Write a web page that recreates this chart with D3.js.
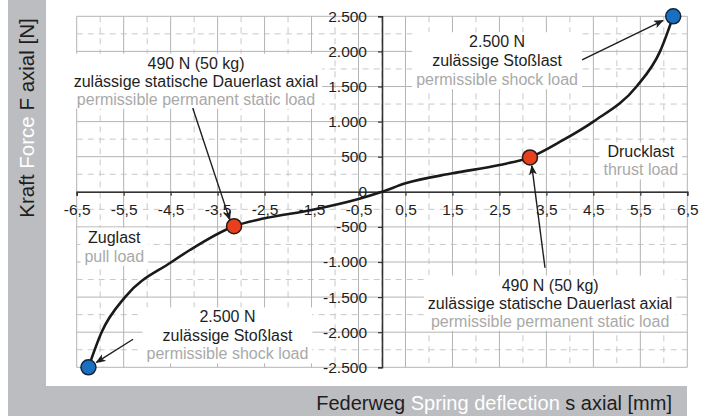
<!DOCTYPE html>
<html>
<head>
<meta charset="utf-8">
<script src="https://cdn.jsdelivr.net/npm/d3@7"></script>
<style>
  body { margin: 0; background: #fff; }
  svg text { font-family: "Liberation Sans", Arial, sans-serif; }
</style>
</head>
<body>
<div id="chart"></div>
<script>
// Spring curve (deflection in mm, force in N)
var deflection = [-6.25, -5.97, -5.47, -4.48, -4.09, -3.15, -2.5, -1.5, -0.5, 0, 0.5, 1.5, 2.5, 3.15, 3.86, 4.5, 5.42, 5.92, 6.2];
var force = [-2500, -2000, -1500, -1000, -829, -490, -378, -259, -103, 0, 121, 263, 382, 490, 738, 1000, 1500, 2000, 2500];

// marked load points
var staticX = [-3.15, 3.15];
var staticF = [-490, 490];
var shockX = [-6.25, 6.2];
var shockF = [-2500, 2500];

// ticks and grid
var xTicks = [-6.5, -5.5, -4.5, -3.5, -2.5, -1.5, -0.5, 0.5, 1.5, 2.5, 3.5, 4.5, 5.5, 6.5];
var xMinor = [-6, -5, -4, -3, -2, -1, 0, 1, 2, 3, 4, 5, 6];
var yTicks = [-2500, -2000, -1500, -1000, -500, 0, 500, 1000, 1500, 2000, 2500];
var yMinor = [-2250, -1750, -1250, -750, -250, 250, 750, 1250, 1750, 2250];

// annotation texts
var staticNote = ["490 N (50 kg)", "zulässige statische Dauerlast axial", "permissible permanent static load"];
var shockNote = ["2.500 N", "zulässige Stoßlast", "permissible shock load"];
var thrustNote = ["Drucklast", "thrust load"];
var pullNote = ["Zuglast", "pull load"];

var width = 712;
var height = 416;

var dark = "#1e1e1e";
var light = "#a9a9a9";
var frame = "#bcbdc0";

var de = d3.formatLocale({ decimal: ",", thousands: ".", grouping: [3], currency: ["", ""], minus: "-" });
var fmtX = de.format(".1f");
var fmtY = de.format(",");

var svg = d3
  .select("#chart")
  .append("svg")
  .attr("width", width)
  .attr("height", height);

// grey frame on the left and bottom
svg.append("rect").attr("x", 8).attr("y", 0).attr("width", 38).attr("height", height).attr("fill", frame);
svg.append("rect").attr("x", 8).attr("y", 386).attr("width", 679).attr("height", 30).attr("fill", frame);

var xScale = d3.scaleLinear().domain([-6.5, 6.5]).range([76.7, 687.3]);
var yScale = d3.scaleLinear().domain([-2500, 2500]).range([367.3, 16.3]);

// grid: dashed minor first, solid major on top
var grid = svg.append("g").attr("class", "grid");

grid.selectAll(".vMinor").data(xMinor).enter()
  .append("line")
  .attr("x1", function(d) { return xScale(d); })
  .attr("x2", function(d) { return xScale(d); })
  .attr("y1", yScale(2500))
  .attr("y2", yScale(-2500))
  .attr("stroke", "#c8c8c8")
  .attr("stroke-dasharray", "6,5");

grid.selectAll(".hMinor").data(yMinor).enter()
  .append("line")
  .attr("x1", xScale(-6.5))
  .attr("x2", xScale(6.5))
  .attr("y1", function(d) { return yScale(d); })
  .attr("y2", function(d) { return yScale(d); })
  .attr("stroke", "#c8c8c8")
  .attr("stroke-dasharray", "6,5");

grid.selectAll(".vMajor").data(xTicks).enter()
  .append("line")
  .attr("x1", function(d) { return xScale(d); })
  .attr("x2", function(d) { return xScale(d); })
  .attr("y1", yScale(2500))
  .attr("y2", yScale(-2500))
  .attr("stroke", "#b4b4b4");

grid.selectAll(".hMajor").data(yTicks).enter()
  .append("line")
  .attr("x1", xScale(-6.5))
  .attr("x2", xScale(6.5))
  .attr("y1", function(d) { return yScale(d); })
  .attr("y2", function(d) { return yScale(d); })
  .attr("stroke", "#b4b4b4");

// axes through the origin
var xAxis = d3.axisBottom(xScale).tickValues(xTicks).tickSize(4).tickFormat(fmtX);
var yAxis = d3.axisLeft(yScale).tickValues(yTicks).tickSize(4).tickFormat(fmtY);

var gx = svg.append("g")
  .attr("transform", "translate(0," + yScale(0) + ")")
  .call(xAxis);
var gy = svg.append("g")
  .attr("transform", "translate(" + xScale(0) + ",0)")
  .call(yAxis);

[gx, gy].forEach(function(g) {
  g.select(".domain").attr("stroke", "#333").attr("stroke-width", 1.6);
  g.selectAll(".tick line").attr("stroke", "#333").attr("stroke-width", 1.2);
  g.selectAll(".tick text")
    .attr("fill", dark)
    .style("font-size", "15.5px")
    .style("font-family", "Liberation Sans, Arial, sans-serif");
});
gx.selectAll(".tick text").attr("y", 12);
gy.selectAll(".tick text").attr("x", -15);

// annotation block: white box behind centred lines
function note(cx, cy, lines, step) {
  var g = svg.append("g");
  var box = g.append("rect").attr("fill", "#fff");
  lines.forEach(function(t, i) {
    g.append("text")
      .attr("x", xScale(cx))
      .attr("y", yScale(cy) + i * step)
      .attr("dy", "0.35em")
      .attr("text-anchor", "middle")
      .attr("fill", i === lines.length - 1 ? light : dark)
      .style("font-size", "16px")
      .text(t);
  });
  var bb = g.node().getBBox();
  box.attr("x", bb.x - 4).attr("y", bb.y - 1)
    .attr("width", bb.width + 8).attr("height", bb.height + 2);
}

note(-3.96, 1833, staticNote, 18);
note(2.45, 2139, shockNote, 19);
note(5.51, 570, thrustNote, 18);
note(-5.7, -645, pullNote, 19);
note(-3.29, -1780, shockNote, 18.5);
note(3.58, -1328, staticNote, 18);

// arrows from the notes to the points
svg.append("defs").append("marker")
  .attr("id", "head")
  .attr("viewBox", "0 0 10 8")
  .attr("refX", 9)
  .attr("refY", 4)
  .attr("markerWidth", 10)
  .attr("markerHeight", 8)
  .attr("markerUnits", "userSpaceOnUse")
  .attr("orient", "auto")
  .append("path")
  .attr("d", "M0,0 L10,4 L0,8 L2.5,4 z")
  .attr("fill", dark);

var arrows = [
  [-4.03, 1194, -3.24, -400],
  [4.26, 1880, 5.98, 2440],
  [3.47, -1082, 3.19, 370],
  [-5.3, -2100, -6.08, -2430]
];
svg.selectAll(".arrow").data(arrows).enter()
  .append("line")
  .attr("x1", function(d) { return xScale(d[0]); })
  .attr("y1", function(d) { return yScale(d[1]); })
  .attr("x2", function(d) { return xScale(d[2]); })
  .attr("y2", function(d) { return yScale(d[3]); })
  .attr("stroke", dark)
  .attr("stroke-width", 1.4)
  .attr("marker-end", "url(#head)");

// the spring curve
var line = d3.line()
  .x(function(d, i) { return xScale(deflection[i]); })
  .y(function(d, i) { return yScale(force[i]); })
  .curve(d3.curveMonotoneX);

svg.append("path")
  .datum(force)
  .attr("d", line)
  .attr("fill", "none")
  .attr("stroke", "#1a1a1a")
  .attr("stroke-width", 2.6);

// load points
svg.selectAll(".static").data(staticX).enter()
  .append("circle")
  .attr("cx", function(d) { return xScale(d); })
  .attr("cy", function(d, i) { return yScale(staticF[i]); })
  .attr("r", 7.5)
  .attr("fill", "#e8401f")
  .attr("stroke", "#2a1a16")
  .attr("stroke-width", 1.5);

svg.selectAll(".shock").data(shockX).enter()
  .append("circle")
  .attr("cx", function(d) { return xScale(d); })
  .attr("cy", function(d, i) { return yScale(shockF[i]); })
  .attr("r", 7.5)
  .attr("fill", "#1a6fc1")
  .attr("stroke", "#14233a")
  .attr("stroke-width", 1.5);

// axis titles, English words in white
var yTitle = svg.append("text")
  .attr("transform", "translate(34,118) rotate(-90)")
  .attr("text-anchor", "middle")
  .style("font-size", "20.5px")
  .attr("fill", dark);
yTitle.append("tspan").text("Kraft ");
yTitle.append("tspan").attr("fill", "#fff").text("Force");
yTitle.append("tspan").text(" F axial [N]");

var xTitle = svg.append("text")
  .attr("x", 672)
  .attr("y", 410)
  .attr("text-anchor", "end")
  .style("font-size", "20px")
  .attr("fill", dark);
xTitle.append("tspan").text("Federweg ");
xTitle.append("tspan").attr("fill", "#fff").text("Spring deflection");
xTitle.append("tspan").text(" s axial [mm]");
</script>
</body>
</html>
